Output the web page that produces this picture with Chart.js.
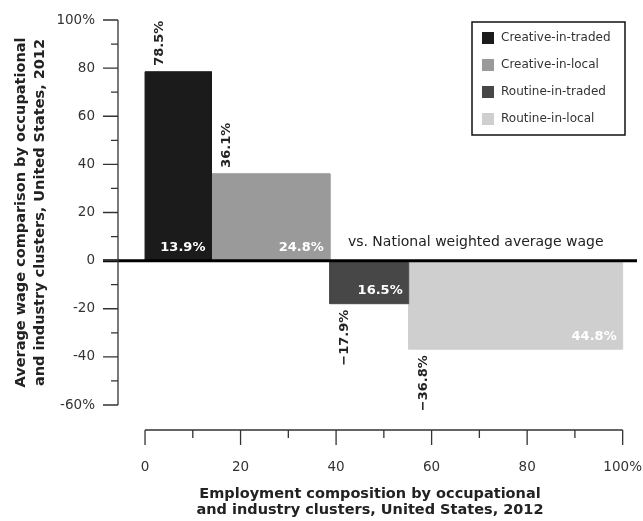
<!DOCTYPE html>
<html>
<head>
<meta charset="utf-8">
<script src="https://cdn.jsdelivr.net/npm/chart.js@4.4.0/dist/chart.umd.min.js"></script>
<style>
  html, body { margin: 0; padding: 0; background: #fff; }
  #wrap { width: 643px; height: 521px; }
</style>
</head>
<body>
<div id="wrap"><canvas id="chart"></canvas></div>
<script>
// clusters: employment share = bar width, wage gap vs national = bar height (both %)
const clusters = ["Creative-in-traded", "Creative-in-local", "Routine-in-traded", "Routine-in-local"];
const employmentShare = [13.9, 24.8, 16.5, 44.8];
const wageGap = [78.5, 36.1, -17.9, -36.8];
const barColors = ["#1b1b1b", "#9a9a9a", "#474747", "#cfcfcf"];
const yTicks = [-60, -40, -20, 0, 20, 40, 60, 80, 100];
const yMinor = [-50, -30, -10, 10, 30, 50, 70, 90];
const xTicks = [0, 20, 40, 60, 80, 100];
const xMinor = [10, 30, 50, 70, 90];
const refLabel = "vs. National weighted average wage";

const FONT = "'DejaVu Sans', sans-serif";

// each bar is an outline filled down to zero, placed by cumulative share
let start = 0;
const datasets = clusters.map((name, i) => {
  const x0 = start, x1 = start + employmentShare[i];
  start = x1;
  return {
    label: name,
    data: [{x: x0, y: 0}, {x: x0, y: wageGap[i]}, {x: x1, y: wageGap[i]}, {x: x1, y: 0}],
    borderColor: barColors[i],
    backgroundColor: barColors[i],
    borderWidth: 1,
    fill: "origin",
    pointRadius: 0,
    tension: 0
  };
});

const pct = v => (v < 0 ? "\u2212" : "") + Math.abs(v).toFixed(1) + "%";

const decor = {
  id: "decor",
  afterDatasetsDraw(chart) {
    const {ctx, chartArea: ca, scales: {x, y}} = chart;
    const y0 = y.getPixelForValue(0);
    ctx.save();

    // zero reference line
    ctx.strokeStyle = "#000";
    ctx.lineWidth = 3;
    ctx.beginPath();
    ctx.moveTo(ca.left, y0);
    ctx.lineTo(ca.right, y0);
    ctx.stroke();

    // y axis with ticks
    const ax = ca.left + 15;
    ctx.strokeStyle = "#333";
    ctx.lineWidth = 1.3;
    ctx.beginPath();
    ctx.moveTo(ax, y.getPixelForValue(100));
    ctx.lineTo(ax, y.getPixelForValue(-60));
    yTicks.forEach(v => { const p = y.getPixelForValue(v); ctx.moveTo(ca.left, p); ctx.lineTo(ax, p); });
    yMinor.forEach(v => { const p = y.getPixelForValue(v); ctx.moveTo(ax - 7, p); ctx.lineTo(ax, p); });
    // x axis below the plot
    const ay = ca.bottom + 25;
    ctx.moveTo(x.getPixelForValue(0), ay);
    ctx.lineTo(x.getPixelForValue(100), ay);
    xTicks.forEach(v => { const p = x.getPixelForValue(v); ctx.moveTo(p, ay); ctx.lineTo(p, ay + 15); });
    xMinor.forEach(v => { const p = x.getPixelForValue(v); ctx.moveTo(p, ay); ctx.lineTo(p, ay + 8); });
    ctx.stroke();

    // labels on bars
    chart.data.datasets.forEach((ds, i) => {
      const pts = chart.getDatasetMeta(i).data;
      const left = pts[0].x, right = pts[3].x, top = pts[1].y;
      const v = wageGap[i];
      ctx.font = "bold 13px " + FONT;
      ctx.fillStyle = "#222";
      ctx.textBaseline = "middle";
      ctx.save();
      ctx.translate(left + 15, v >= 0 ? top - 6 : top + 6);
      ctx.rotate(-Math.PI / 2);
      ctx.textAlign = v >= 0 ? "left" : "right";
      ctx.fillText(pct(v), 0, 0);
      ctx.restore();
      ctx.fillStyle = "#fff";
      ctx.textAlign = "right";
      ctx.fillText(pct(employmentShare[i]), right - 6, Math.max(top, y0) - 13);
    });

    // reference line caption
    const p3 = chart.getDatasetMeta(2).data[0].x;
    ctx.font = "14px " + FONT;
    ctx.fillStyle = "#222";
    ctx.textAlign = "left";
    ctx.textBaseline = "middle";
    ctx.fillText(refLabel, p3 + 18, y0 - 18);
    ctx.restore();
  },
  afterDraw(chart) {
    // boxed legend, top right
    const {ctx, chartArea: ca} = chart;
    const bx = ca.right - 165, by = ca.top + 2, bw = 153, bh = 113;
    ctx.save();
    ctx.strokeStyle = "#111";
    ctx.lineWidth = 1.5;
    ctx.strokeRect(bx, by, bw, bh);
    ctx.font = "12px " + FONT;
    ctx.textAlign = "left";
    ctx.textBaseline = "middle";
    chart.data.datasets.forEach((ds, i) => {
      const cy = by + 16 + i * 27;
      ctx.fillStyle = ds.backgroundColor;
      ctx.fillRect(bx + 10, cy - 6, 12, 12);
      ctx.fillStyle = "#333";
      ctx.fillText(ds.label, bx + 29, cy);
    });
    ctx.restore();
  }
};

new Chart(document.getElementById("chart"), {
  type: "line",
  data: { datasets },
  options: {
    responsive: true,
    maintainAspectRatio: false,
    animation: false,
    layout: { padding: { left: 0, right: 6, top: 20, bottom: 0 } },
    plugins: { legend: { display: false }, tooltip: { enabled: false } },
    scales: {
      x: {
        type: "linear",
        min: -8.8,
        max: 103,
        grid: { display: false, drawTicks: false },
        border: { display: false },
        afterBuildTicks: s => { s.ticks = xTicks.map(v => ({ value: v })); },
        afterFit: s => { s.height = 116; s.paddingLeft = 0; s.paddingRight = 0; },
        ticks: {
          padding: 54,
          color: "#333",
          font: { family: FONT, size: 13.5 },
          callback: v => v === 100 ? "100%" : String(v)
        },
        title: {
          display: true,
          text: ["Employment composition by occupational", "and industry clusters, United States, 2012"],
          color: "#222",
          font: { family: FONT, size: 14.5, weight: "bold", lineHeight: 1.1 },
          padding: { top: 0, bottom: 3 }
        }
      },
      y: {
        min: -60,
        max: 100,
        grid: { display: false, drawTicks: false },
        border: { display: false },
        afterBuildTicks: s => { s.ticks = yTicks.map(v => ({ value: v })); },
        afterFit: s => { s.width = 103; s.paddingTop = 0; s.paddingBottom = 0; },
        ticks: {
          padding: 8,
          color: "#333",
          font: { family: FONT, size: 13.5 },
          callback: v => (v === 100 || v === -60) ? v + "%" : String(v)
        },
        title: {
          display: true,
          text: ["Average wage comparison by occupational", "and industry clusters, United States, 2012"],
          color: "#222",
          font: { family: FONT, size: 14.5, weight: "bold", lineHeight: 1.3 },
          padding: { top: 12, bottom: 0 }
        }
      }
    }
  },
  plugins: [decor]
});
</script>
</body>
</html>
